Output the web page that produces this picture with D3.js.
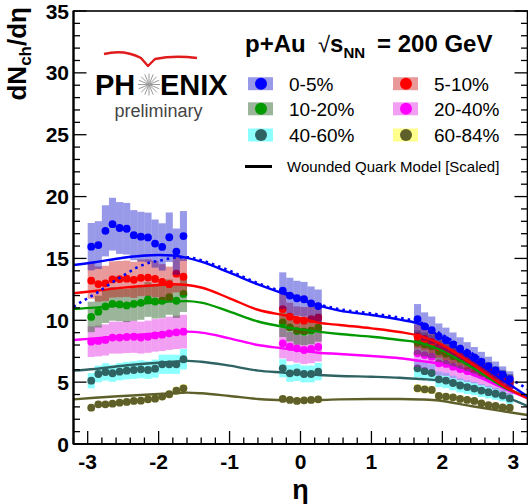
<!DOCTYPE html>
<html><head><meta charset="utf-8">
<script src="https://cdn.jsdelivr.net/npm/d3@7"></script>
<style>
body{margin:0;background:#fff;}
svg{display:block;font-family:"Liberation Sans",Arial,sans-serif;}
</style></head>
<body><svg id="c" width="528" height="504"></svg>
<script>
// ---------------- data ----------------
const etaLeft  = [-2.95,-2.85,-2.75,-2.65,-2.55,-2.45,-2.35,-2.25,-2.15,-2.05,-1.95,-1.85,-1.75,-1.65];
const etaMid   = [-0.25,-0.15,-0.05,0.05,0.15,0.25];
const etaRight = [1.65,1.75,1.85,1.95,2.05,2.15,2.25,2.35,2.45,2.55,2.65,2.75,2.85,2.95];

const labels = ["0-5%","5-10%","10-20%","20-40%","40-60%","60-84%"];
const markerColors = ["#0000ff","#ff0000","#009a00","#ff00ff","#2f6363","#5f5f2a"];
const bandColors   = ["#0000c8","#c80000","#1e5a1e","#dc00dc","#00ffff","#ffff00"];
const bandOpacity  = [0.4,0.4,0.45,0.38,0.45,0.45];
const sysRel       = [0.12,0.11,0.12,0.15,0.12,0.07];

const c0_5   = [15.95,16.08,17.23,17.77,17.46,17.4,16.88,16.76,16.7,16.2,15.93,16.71,15.55,16.81,
                12.39,12.0,11.78,11.7,11.37,11.15,
                10.1,9.5,9.2,8.7,8.4,8.05,7.7,7.35,7.0,6.65,6.3,5.95,5.6,5.25];
const c5_10  = [13.2,12.93,12.98,13.3,13.33,13.36,13.27,13.43,13.45,13.34,13.1,12.92,13.77,13.52,
                10.91,10.29,10.02,9.97,10.1,10.21,
                8.7,8.5,8.25,7.85,7.6,7.35,7.1,6.8,6.5,6.2,5.9,5.6,5.3,5.0];
const c10_20 = [10.27,10.7,11.12,11.33,11.28,11.2,11.32,11.41,11.68,11.52,11.58,11.87,11.58,12.13,
                9.83,9.43,9.13,9.08,9.16,9.4,
                8.2,8.05,7.9,7.5,7.3,7.1,6.9,6.65,6.4,6.15,5.9,5.6,5.35,5.05];
const c20_40 = [8.27,8.33,8.41,8.6,8.6,8.65,8.67,8.6,8.67,8.78,8.84,8.95,9.03,9.08,
                8.14,7.87,7.73,7.6,7.68,7.84,
                7.33,7.19,7.06,6.52,6.47,6.25,6.06,5.9,5.77,5.58,5.39,5.17,4.96,4.69];
const c40_60 = [5.12,5.66,5.82,5.72,5.85,5.93,5.98,6.04,5.98,6.09,6.44,6.44,6.44,6.85,
                6.12,5.71,5.79,5.66,5.66,5.85,
                6.12,5.89,5.74,5.23,5.13,4.93,4.73,4.6,4.48,4.32,4.19,4.06,3.92,3.68];
const c60_84 = [2.94,3.21,3.21,3.26,3.34,3.4,3.48,3.5,3.61,3.66,3.83,4.02,4.31,4.5,
                3.64,3.56,3.48,3.53,3.56,3.61,
                4.5,4.42,4.37,3.88,3.83,3.77,3.64,3.56,3.48,3.29,3.15,3.07,2.96,2.94];

// Wounded quark model curves (scaled)
const modelEta = [-3.2,-2.9,-2.5,-2.0,-1.8,-1.6,-1.4,-1.0,-0.6,-0.25,0,0.25,0.55,1.0,1.4,1.7,1.95,2.4,2.9,3.2];
const m0_5   = [14.47,14.69,15.06,15.28,15.24,15.05,14.74,13.85,12.9,12.18,11.7,11.2,10.78,10.43,10.05,9.65,8.75,6.95,5.0,3.85];
const m5_10  = [12.18,12.37,12.64,12.85,12.91,12.85,12.65,11.78,10.85,10.43,10.16,9.81,9.62,9.35,9.05,8.7,8.15,6.55,4.58,3.7];
const m10_20 = [10.91,11.02,11.24,11.45,11.53,11.55,11.43,10.7,9.9,9.48,9.27,9.08,8.89,8.67,8.41,8.15,7.66,6.25,4.5,3.83];
const m20_40 = [8.41,8.54,8.73,8.95,9.03,9.08,9.0,8.54,8.0,7.73,7.54,7.38,7.28,7.11,6.93,6.7,6.5,5.66,4.42,3.69];
const m40_60 = [5.93,6.06,6.33,6.57,6.65,6.72,6.65,6.33,5.93,5.77,5.66,5.58,5.5,5.44,5.36,5.25,5.15,4.63,3.77,3.07];
const m60_84 = [3.61,3.74,3.88,4.04,4.1,4.15,4.1,3.88,3.64,3.56,3.56,3.56,3.61,3.64,3.64,3.6,3.52,3.07,2.61,2.34];
// alternative (dotted) curve for 0-5%
const dotEta  = [-3.2,-3.07,-2.88,-2.69,-2.5,-2.31,-2.13,-1.94,-1.8,-1.6,-1.4,-1.0,-0.6,-0.25,0,0.25,0.55,1.0,1.4,1.7,1.95,2.4,2.9,3.2];
const dotVals = [11.1,11.56,12.18,12.93,13.61,14.25,14.66,14.87,15.05,15.1,14.85,14.0,13.0,12.3,11.8,11.3,10.9,10.55,10.2,9.8,9.0,7.4,5.5,4.45];

const xMajor = [-3,-2,-1,0,1,2,3];
const yMajor = [0,5,10,15,20,25,30,35];

// ---------------- drawing ----------------
const svg = d3.select("#c");
const X0 = 73.5, X1 = 527.5, Y0 = 444, Y1 = 11;
const x = d3.scaleLinear().domain([-3.2,3.2]).range([X0,X1]);
const y = d3.scaleLinear().domain([0,35]).range([Y0,Y1]);
const font = '"Liberation Sans",Arial,sans-serif';

svg.append("defs").append("clipPath").attr("id","clip")
  .append("rect").attr("x",X0).attr("y",Y1).attr("width",X1-X0).attr("height",Y0-Y1);

const eta = etaLeft.concat(etaMid, etaRight);
const seriesVals = [c0_5,c5_10,c10_20,c20_40,c40_60,c60_84];
const modelVals = [m0_5,m5_10,m10_20,m20_40,m40_60,m60_84];
const bw = 0.1;

const gData = svg.append("g").attr("clip-path","url(#clip)");
// draw from most peripheral to most central
for (let s = 5; s >= 0; s--) {
  const vals = seriesVals[s];
  const g = gData.append("g");
  g.selectAll("rect").data(eta).join("rect")
    .attr("x", (e) => x(e - bw/2))
    .attr("width", (e) => x(e + bw/2) - x(e - bw/2))
    .attr("y", (e,i) => y(vals[i]*(1+sysRel[s])))
    .attr("height", (e,i) => y(vals[i]*(1-sysRel[s])) - y(vals[i]*(1+sysRel[s])))
    .attr("fill", bandColors[s]).attr("fill-opacity", bandOpacity[s]);
  g.selectAll("circle").data(eta).join("circle")
    .attr("cx", (e) => x(e)).attr("cy", (e,i) => y(vals[i]))
    .attr("r", 3.9).attr("fill", markerColors[s]);
}

// model lines
const line = d3.line().curve(d3.curveMonotoneX).x(d => x(d[0])).y(d => y(d[1]));
const gLines = svg.append("g").attr("clip-path","url(#clip)");
for (let s = 5; s >= 0; s--) {
  gLines.append("path").attr("d", line(modelEta.map((e,i)=>[e, modelVals[s][i]])))
    .attr("fill","none").attr("stroke", markerColors[s]).attr("stroke-width",2.4);
}
gLines.append("path").attr("d", line(dotEta.map((e,i)=>[e, dotVals[i]])))
  .attr("fill","none").attr("stroke","#0000ff").attr("stroke-width",2.6)
  .attr("stroke-dasharray","2.6 4");

// frame
svg.append("rect").attr("x",X0).attr("y",Y1).attr("width",X1-X0).attr("height",Y0-Y1)
  .attr("fill","none").attr("stroke","#000").attr("stroke-width",1.6);
svg.append("line").attr("x1",X0).attr("x2",X0).attr("y1",Y1).attr("y2",Y0).attr("stroke","#000").attr("stroke-width",2.2);
svg.append("line").attr("x1",X0).attr("x2",X1).attr("y1",Y0).attr("y2",Y0).attr("stroke","#000").attr("stroke-width",2.2);

// ticks
const gt = svg.append("g").attr("stroke","#000").attr("stroke-width",1.3);
const xMinor = d3.range(-32,33,2).map(v=>v/10);
xMinor.forEach(v => {
  const major = Math.abs(v - Math.round(v)) < 1e-6;
  const L = major ? 13 : 6.5;
  gt.append("line").attr("x1",x(v)).attr("x2",x(v)).attr("y1",Y0).attr("y2",Y0-L);
});
d3.range(0,36).forEach(v => {
  const major = v % 5 === 0;
  const L = major ? 13 : 6.5;
  gt.append("line").attr("x1",X0).attr("x2",X0+L).attr("y1",y(v)).attr("y2",y(v));
  gt.append("line").attr("x1",X1).attr("x2",X1-L).attr("y1",y(v)).attr("y2",y(v));
});

// tick labels
const gl = svg.append("g").attr("font-family",font).attr("font-weight","bold").attr("font-size",21).attr("fill","#000");
xMajor.forEach(v => gl.append("text").attr("x",x(v)).attr("y",469).attr("text-anchor","middle").text(v));
yMajor.forEach(v => gl.append("text").attr("x",69).attr("y",y(v)+7.5).attr("text-anchor","end").text(v));

// axis titles
svg.append("text").attr("x",x(0)).attr("y",499).attr("text-anchor","middle")
  .attr("font-family",font).attr("font-weight","bold").attr("font-size",27).text("η");
const yt = svg.append("text").attr("transform","translate(26,7) rotate(-90)").attr("text-anchor","end")
  .attr("font-family",font).attr("font-weight","bold").attr("font-size",26);
yt.append("tspan").text("dN");
yt.append("tspan").attr("font-size",17).attr("dy",5).text("ch");
yt.append("tspan").attr("dy",-5).text("/dη");

// logo
const logo = svg.append("g");
logo.append("path").attr("d","M104,54 Q124,49 141,58 L148,66 L155,59 Q174,55 197,58")
  .attr("fill","none").attr("stroke","#e01b1b").attr("stroke-width",2.4).attr("stroke-linejoin","round");
logo.append("text").attr("x",95).attr("y",95).attr("font-family",font).attr("font-weight","bold")
  .attr("font-size",29).text("PH");
logo.append("text").attr("x",160).attr("y",95).attr("font-family",font).attr("font-weight","bold")
  .attr("font-size",29).text("ENIX");
for (let k = 0; k < 16; k++) {
  const a = k*Math.PI/8;
  logo.append("line").attr("x1",149).attr("y1",84.5).attr("x2",149+11*Math.cos(a)).attr("y2",84.5+11*Math.sin(a))
    .attr("stroke","#9a9a9a").attr("stroke-width",1);
}
logo.append("text").attr("x",158.5).attr("y",117).attr("text-anchor","middle").attr("font-family",font)
  .attr("font-size",18).attr("fill","#444").text("preliminary");

// legend header
const hd = svg.append("text").attr("y",52).attr("font-family",font).attr("font-weight","bold").attr("font-size",24);
hd.append("tspan").attr("x",245).text("p+Au");
hd.append("tspan").attr("x",318).attr("font-weight","normal").attr("font-size",22).text("√");
hd.append("tspan").text("s");
hd.append("tspan").attr("font-size",15).attr("dy",6).text("NN");
hd.append("tspan").attr("x",377).attr("dy",-6).text("= 200 GeV");

// legend entries
const legX = [248,393], legY = [83.7,108.8,135];
labels.forEach((lab,i) => {
  const cx = legX[i%2], cy = legY[Math.floor(i/2)];
  const g = svg.append("g");
  g.append("rect").attr("x",cx).attr("y",cy-6.5).attr("width",25).attr("height",13)
    .attr("fill",bandColors[i]).attr("fill-opacity",bandOpacity[i]);
  g.append("circle").attr("cx",cx+13).attr("cy",cy).attr("r",6).attr("fill",markerColors[i]);
  g.append("text").attr("x",cx+41).attr("y",cy+7).attr("font-family",font).attr("font-size",19).text(lab);
});
svg.append("line").attr("x1",245).attr("x2",272).attr("y1",166.5).attr("y2",166.5).attr("stroke","#000").attr("stroke-width",3);
svg.append("text").attr("x",287).attr("y",172).attr("font-family",font).attr("font-size",15).text("Wounded Quark Model [Scaled]");
</script></body></html>
